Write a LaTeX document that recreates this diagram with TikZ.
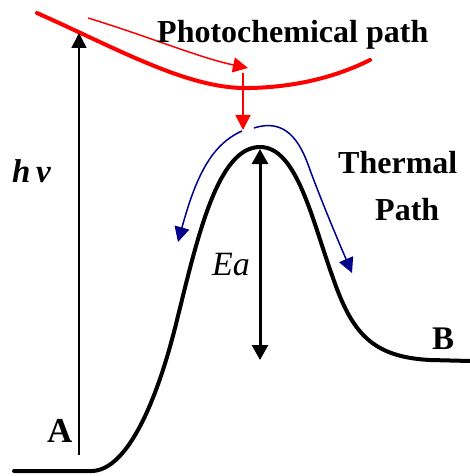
\documentclass[tikz,border=0pt]{standalone}
\usepackage{fontspec}
\setmainfont{Liberation Serif}
\usetikzlibrary{arrows.meta}
\definecolor{navyblue}{RGB}{0,0,140}
\begin{document}
\begin{tikzpicture}[x=1pt, y=-1pt,
                    every node/.style={inner sep=0pt, anchor=base west},
                    tip/.style={-{Triangle[length=15pt, width=15pt]}},
                    lbl/.style={font=\fontsize{32}{36}\selectfont\bfseries},
                    surface/.style={line width=4pt, line cap=round}]
                    \useasboundingbox (0,0) rectangle (470,476);

                    % ground state surface A -> B
                    \draw[surface, black] (14,471) -- (92,471)
                        .. controls (125,470) and (155,410) .. (177,320)
                        .. controls (198,235) and (218,147) .. (260,147)
                        .. controls (297,147) and (312,220) .. (333,278)
                        .. controls (352,333) and (372,357) .. (430,360) -- (470,361);
                    % excited state surface
                    \draw[surface, red] (37,13) .. controls (120,50) and (190,90) .. (250,88)
                        .. controls (300,87) and (340,75) .. (370,60);

                    % named ends
                    \coordinate (hvlow) at (79,455);
                    \coordinate (hvtop) at (79,33);
                    \coordinate (phstart) at (88,18);
                    \coordinate (phend) at (248,68);
                    \coordinate (droptop) at (243,73);
                    \coordinate (dropend) at (243,130);
                    \coordinate (eatop) at (260,149);
                    \coordinate (ealow) at (260,360);
                    \coordinate (thleft) at (242,131);
                    \coordinate (thleftend) at (178,242);
                    \coordinate (thright) at (254,128);
                    \coordinate (thrightend) at (352,273);

                    % photochemical path
                    \draw[tip, red, line width=1.5pt] (phstart) .. controls (150,37) and (200,58) .. (phend);
                    \draw[tip, red, line width=1.5pt] (droptop) -- (dropend);

                    % excitation
                    \draw[tip, black, line width=1.5pt] (hvlow) -- (hvtop);

                    % activation energy
                    \draw[{Triangle[length=15pt, width=16pt]}-{Triangle[length=15pt, width=16pt]}, line width=3pt] (eatop) -- (ealow);

                    % thermal path
                    \draw[tip, navyblue, line width=1.5pt] (thleft) .. controls (210,145) and (195,180) .. (thleftend);
                    \draw[tip, navyblue, line width=1.5pt] (thright) .. controls (285,118) and (300,140) .. (310,170)
                        .. controls (325,210) and (340,245) .. (thrightend);

                    % labels
                    \node[lbl] (photo) at (157,43) {Photochemical path};
                    \node[lbl] (therm) at (338,173) {Thermal};
                    \node[lbl] (path) at (375,220) {Path};
                    \node[font=\fontsize{33}{38}\selectfont\bfseries\itshape] (hnu) at (12,182) {h\,ν};
                    \node[font=\fontsize{34}{38}\selectfont\itshape] (ea) at (212,275) {Ea};
                    \node[font=\fontsize{35}{40}\selectfont\bfseries] (stA) at (47,442) {A};
                    \node[font=\fontsize{33}{38}\selectfont\bfseries] (stB) at (432,349) {B};
                \end{tikzpicture}
\end{document}
